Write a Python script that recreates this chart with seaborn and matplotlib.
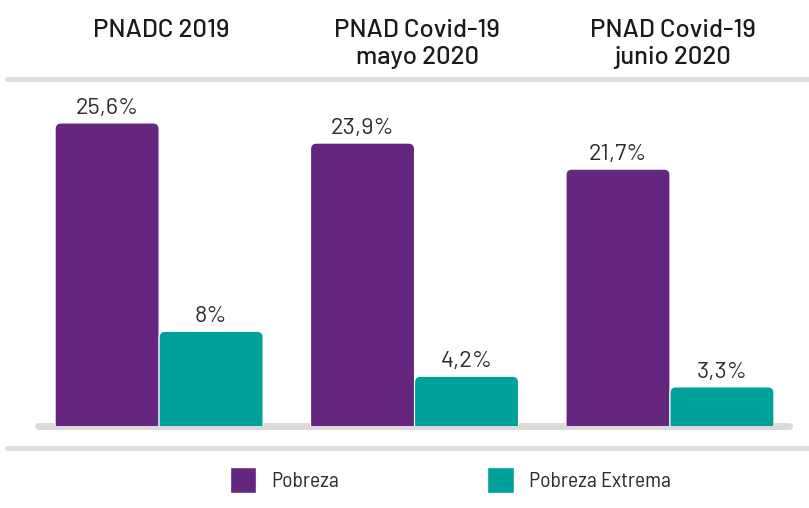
import numpy as np
import pandas as pd
import matplotlib
matplotlib.use("Agg")
import matplotlib.pyplot as plt
import matplotlib.transforms as mtransforms
from matplotlib.patches import FancyBboxPatch
from matplotlib.lines import Line2D
import seaborn as sns

# data
groups = ["PNADC 2019", "PNAD Covid-19\nmayo 2020", "PNAD Covid-19\njunio 2020"]
series = ["Pobreza", "Pobreza Extrema"]
pobreza = [25.6, 23.9, 21.7]
pobreza_extrema = [8.0, 4.2, 3.3]

colors = ["#65267f", "#00a19a"]

df = pd.DataFrame({
    "grupo": groups * 2,
    "serie": [series[0]] * 3 + [series[1]] * 3,
    "valor": pobreza + pobreza_extrema,
})

sns.set_theme(style="white")
plt.rcParams["font.family"] = ["Barlow", "DejaVu Sans"]

W, H = 809, 508
fig = plt.figure(figsize=(W / 100, H / 100), dpi=100)
ax_left, ax_right, ax_top, ax_bot = 38, 789, 78, 426
ax = fig.add_axes([ax_left / W, 1 - ax_bot / H, (ax_right - ax_left) / W, (ax_bot - ax_top) / H])

sns.barplot(data=df, x="grupo", y="valor", hue="serie", order=groups, hue_order=series,
            palette=colors, width=0.814, saturation=1, ax=ax, zorder=3)

xmin, xmax, ymax = -0.474, 2.466, 29.4
ax.set_xlim(xmin, xmax)
ax.set_ylim(0, ymax)
ax.set_xticks([])
ax.set_yticks([])
ax.set_xlabel("")
ax.set_ylabel("")
sns.despine(ax=ax, left=True, bottom=True)

# value labels
def fmt(v):
    return f"{v:g}".replace(".", ",") + "%"

for cont in ax.containers:
    ax.bar_label(cont, labels=[fmt(b.get_height()) for b in cont], padding=3,
                 fontsize=17, color="#2e2e2e")

# rounded top corners
px_x = (ax_right - ax_left) / (xmax - xmin)
px_y = (ax_bot - ax_top) / ymax
r = 6
rx, ry = r / px_x, r / px_y
for cont in ax.containers:
    for b in cont:
        x, w, h = b.get_x(), b.get_width(), b.get_height()
        fb = FancyBboxPatch((x, -ry), w, h + ry,
                            boxstyle=f"round,pad=0,rounding_size={rx}",
                            mutation_aspect=ry / rx, fc=b.get_facecolor(),
                            ec="white", lw=0.8, zorder=3)
        ax.add_patch(fb)
        b.set_visible(False)

# baseline
ax.axhline(0, color="#dadada", lw=5, zorder=2, clip_on=False)

# group headers
trans = mtransforms.blended_transform_factory(ax.transData, fig.transFigure)
for i, g in enumerate(groups):
    ax.text(i + 0.01, 1 - 19 / H, g, transform=trans, ha="center", va="top",
            fontsize=18.5, fontweight=500, color="#1a1a1a", linespacing=1.22)

# separators
fig.add_artist(Line2D([7 / W, 1], [1 - 79 / H] * 2, color="#dcdcdc", lw=3.5))
fig.add_artist(Line2D([7 / W, 1], [1 - 448 / H] * 2, color="#dcdcdc", lw=3.5))

# legend
handles, labels = ax.get_legend_handles_labels()
ax.get_legend().remove()
fig.legend(handles, labels, loc="center", bbox_to_anchor=(450 / W, 1 - 480 / H),
           ncol=2, frameon=False, handlelength=1.25, handleheight=1.47,
           handletextpad=0.67, columnspacing=6.9, labelcolor="#2e2e2e",
           prop={"family": "Barlow Semi Condensed", "size": 15.5})

fig.savefig("out.png", dpi=100)
